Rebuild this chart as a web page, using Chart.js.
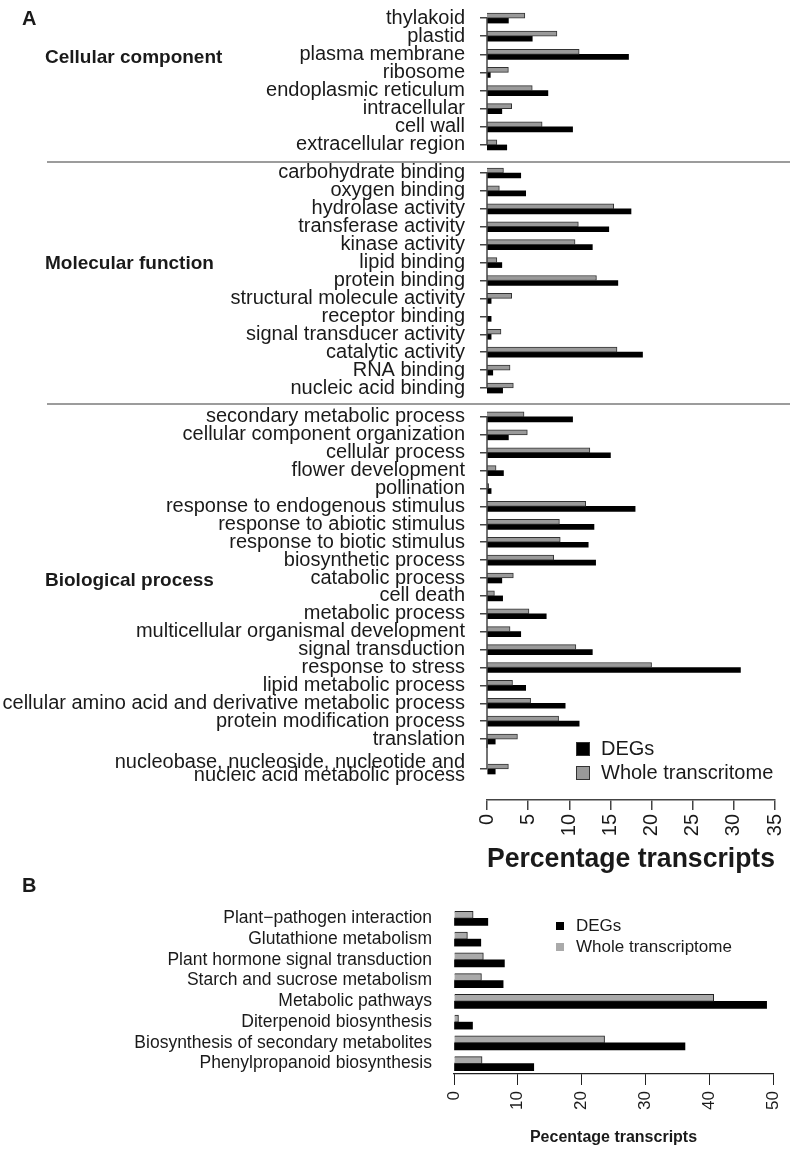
<!DOCTYPE html>
<html>
<head>
<meta charset="utf-8">
<script src="https://cdn.jsdelivr.net/npm/chart.js@4.4.1/dist/chart.umd.min.js"></script>
<style>
  body { margin: 0; background: #fff; }
  #page { position: relative; width: 790px; height: 1149px; overflow: hidden;
          font-family: 'Liberation Sans', Arial, sans-serif; color: #1a1a1a; }
  canvas { position: absolute; left: 0; top: 0; }
  .t { position: absolute; white-space: nowrap; line-height: 1; }
  .b { font-weight: bold; }
  .sep { position: absolute; left: 47px; width: 743px; height: 2px; background: #9c9c9c; }
  .sq { position: absolute; box-sizing: border-box; }
</style>
</head>
<body>
<div id="page">
  <canvas id="cc" width="790" height="1149"></canvas>
  <canvas id="mf" width="790" height="1149"></canvas>
  <canvas id="bp" width="790" height="1149"></canvas>
  <canvas id="nuc" width="790" height="1149"></canvas>
  <canvas id="kegg" width="790" height="1149"></canvas>

  <div class="t b" style="left:22px;top:8px;font-size:20px">A</div>
  <div class="t b" style="left:22px;top:875px;font-size:20px">B</div>
  <div class="t b" style="left:45px;top:47px;font-size:19px">Cellular component</div>
  <div class="t b" style="left:45px;top:253px;font-size:19px">Molecular function</div>
  <div class="t b" style="left:45px;top:570px;font-size:19px">Biological process</div>
  <div class="sep" style="top:161px"></div>
  <div class="sep" style="top:403px"></div>

  <div class="sq" style="left:576px;top:742px;width:14px;height:14px;background:#000;border:1px solid #333"></div>
  <div class="t" style="left:601px;top:738px;font-size:20px">DEGs</div>
  <div class="sq" style="left:576px;top:766px;width:14px;height:14px;background:#9a9a9a;border:1px solid #333"></div>
  <div class="t" style="left:601px;top:762px;font-size:20px">Whole transcritome</div>

  <div class="sq" style="left:556px;top:922px;width:8px;height:8px;background:#000"></div>
  <div class="t" style="left:576px;top:917px;font-size:17px">DEGs</div>
  <div class="sq" style="left:556px;top:943px;width:8px;height:8px;background:#aaa"></div>
  <div class="t" style="left:576px;top:938px;font-size:17px">Whole transcriptome</div>
</div>
<script>
// ---- panel A data (percentage transcripts) ----
const ccLabels = ['thylakoid', 'plastid', 'plasma membrane', 'ribosome', 'endoplasmic reticulum',
  'intracellular', 'cell wall', 'extracellular region'];
const ccDEG   = [2.6, 5.5, 17.2, 0.4, 7.4, 1.8, 10.4, 2.4];
const ccWhole = [4.6, 8.5, 11.2, 2.6, 5.5, 3.0, 6.7, 1.2];

const mfLabels = ['carbohydrate binding', 'oxygen binding', 'hydrolase activity', 'transferase activity',
  'kinase activity', 'lipid binding', 'protein binding', 'structural molecule activity', 'receptor binding',
  'signal transducer activity', 'catalytic activity', 'RNA binding', 'nucleic acid binding'];
const mfDEG   = [4.1, 4.7, 17.5, 14.8, 12.8, 1.8, 15.9, 0.5, 0.5, 0.5, 18.9, 0.7, 1.9];
const mfWhole = [2.0, 1.5, 15.4, 11.1, 10.7, 1.2, 13.3, 3.0, 0.0, 1.7, 15.8, 2.8, 3.2];

const bpLabels = ['secondary metabolic process', 'cellular component organization', 'cellular process',
  'flower development', 'pollination', 'response to endogenous stimulus', 'response to abiotic stimulus',
  'response to biotic stimulus', 'biosynthetic process', 'catabolic process', 'cell death', 'metabolic process',
  'multicellular organismal development', 'signal transduction', 'response to stress', 'lipid metabolic process',
  'cellular amino acid and derivative metabolic process', 'protein modification process', 'translation',
  ['nucleobase, nucleoside, nucleotide and', 'nucleic acid metabolic process']];
const bpDEG   = [10.4, 2.6, 15.0, 2.0, 0.5, 18.0, 13.0, 12.3, 13.2, 1.8, 1.9, 7.2, 4.1, 12.8, 30.8, 4.7, 9.5, 11.2, 1.0, 1.0];
const bpWhole = [4.5, 4.9, 12.5, 1.1, 0.2, 12.0, 8.8, 8.9, 8.1, 3.2, 0.9, 5.1, 2.8, 10.8, 20.0, 3.1, 5.3, 8.7, 3.7, 2.6];

const xMaxA = 35, xStepA = 5;

// ---- panel B data ----
const keggLabels = ['Plant\u2212pathogen interaction', 'Glutathione metabolism', 'Plant hormone signal transduction',
  'Starch and sucrose metabolism', 'Metabolic pathways', 'Diterpenoid biosynthesis',
  'Biosynthesis of secondary metabolites', 'Phenylpropanoid biosynthesis'];
const keggDEG   = [5.3, 4.2, 7.9, 7.7, 49.0, 2.9, 36.2, 12.5];
const keggWhole = [3.0, 2.1, 4.6, 4.3, 40.7, 0.7, 23.6, 4.4];

const xMaxB = 50, xStepB = 10;

const FONT = "'Liberation Sans', Arial, sans-serif";
const INK = '#1a1a1a';
Chart.defaults.font.family = FONT;
Chart.defaults.color = INK;

// keep the plot box where the layout padding puts it
function noPad(s) { s.paddingTop = 0; s.paddingBottom = 0; s.paddingLeft = 0; s.paddingRight = 0; }

// R style axis line: runs from first to last labelled tick (or to the plot edge)
const rAxis = {
  id: 'rAxis',
  afterDraw(chart, args, opts) {
    const y = chart.scales.y, a = chart.chartArea, ctx = chart.ctx;
    const idx = chart.data.labels.map((l, i) => (l && l.length ? i : -1)).filter(i => i >= 0);
    const top = opts.from === 'area' ? a.top : y.getPixelForTick(idx[0]);
    const bot = opts.to === 'area' ? a.bottom : y.getPixelForTick(idx[idx.length - 1]);
    ctx.save();
    ctx.strokeStyle = '#444';
    ctx.lineWidth = 1.5;
    ctx.beginPath();
    ctx.moveTo(a.left, top);
    ctx.lineTo(a.left, bot);
    ctx.stroke();
    ctx.restore();
  }
};

function panelA(id, labels, whole, deg, o) {
  return new Chart(document.getElementById(id), {
    type: 'bar',
    data: {
      labels: labels,
      datasets: [
        { label: 'Whole transcritome', data: whole, backgroundColor: '#9a9a9a',
          borderColor: '#333', borderWidth: 1, barThickness: 5 },
        { label: 'DEGs', data: deg, backgroundColor: '#000', barThickness: 5 }
      ]
    },
    options: {
      indexAxis: 'y',
      responsive: false,
      animation: false,
      events: [],
      layout: { padding: { top: o.top, bottom: o.bottom, left: 0, right: 15 } },
      plugins: {
        legend: { display: false },
        tooltip: { enabled: false },
        rAxis: { from: o.from, to: o.to }
      },
      scales: {
        x: o.xAxis ? {
          min: 0, max: xMaxA,
          ticks: { stepSize: xStepA, minRotation: 90, maxRotation: 90, padding: 4,
                   color: INK, font: { size: 20 } },
          grid: { drawOnChartArea: false, tickLength: 10, tickColor: '#444', lineWidth: 1.5 },
          border: { color: '#444', width: 1.5 },
          title: { display: true, text: 'Percentage transcripts', color: INK, padding: 0,
                   font: { size: 28, weight: 'bold' } },
          afterFit(s) { s.height = 76; noPad(s); }
        } : { min: 0, max: xMaxA, display: false },
        y: {
          ticks: { autoSkip: false, padding: 15, color: INK,
                   font: { size: 20, lineHeight: o.lineHeight || 1.2 } },
          grid: { offset: false, drawOnChartArea: false, tickLength: 7, lineWidth: 1.5,
                  tickColor: c => (c.tick && c.tick.label && c.tick.label.length ? '#444' : 'rgba(0,0,0,0)') },
          border: { display: false },
          afterFit(s) { s.width = 487; noPad(s); }
        }
      }
    },
    plugins: [rAxis]
  });
}

const H = 1149;
panelA('cc', ccLabels, ccWhole, ccDEG, { top: 9, bottom: H - 154, from: 'tick', to: 'tick' });
panelA('mf', mfLabels, mfWhole, mfDEG, { top: 164, bottom: H - 397, from: 'tick', to: 'tick' });
panelA('bp', bpLabels.slice(0, 19), bpWhole.slice(0, 19), bpDEG.slice(0, 19),
  { top: 408, bottom: H - 748, from: 'tick', to: 'area' });
// last biological-process row sits a little apart, with the x axis under it
panelA('nuc', ['', bpLabels[19], ''], [null, bpWhole[19], null], [null, bpDEG[19], null],
  { top: 738, bottom: H - 800 - 76, from: 'area', to: 'tick', xAxis: true, lineHeight: 0.62 });

new Chart(document.getElementById('kegg'), {
  type: 'bar',
  data: {
    labels: keggLabels,
    datasets: [
      { label: 'Whole transcriptome', data: keggWhole, backgroundColor: '#aaa',
        borderColor: '#222', borderWidth: 1, barThickness: 7 },
      { label: 'DEGs', data: keggDEG, backgroundColor: '#000', barThickness: 7 }
    ]
  },
  options: {
    indexAxis: 'y',
    responsive: false,
    animation: false,
    events: [],
    layout: { padding: { top: 908, bottom: 2, left: 0, right: 17 } },
    plugins: { legend: { display: false }, tooltip: { enabled: false } },
    scales: {
      x: {
        min: 0, max: xMaxB,
        ticks: { stepSize: xStepB, minRotation: 90, maxRotation: 90, padding: 6,
                 color: INK, font: { size: 17 } },
        grid: { drawOnChartArea: false, tickLength: 11, tickColor: '#222' },
        border: { color: '#222', width: 1.2 },
        title: { display: true, text: 'Pecentage transcripts', color: INK, padding: 0,
                 font: { size: 16, weight: 'bold' } },
        afterFit(s) { s.height = 73; noPad(s); }
      },
      y: {
        ticks: { autoSkip: false, padding: 22, color: INK, font: { size: 17.5 } },
        grid: { display: false, drawTicks: false },
        border: { display: false },
        afterFit(s) { s.width = 454; noPad(s); }
      }
    }
  }
});
</script>
</body>
</html>
